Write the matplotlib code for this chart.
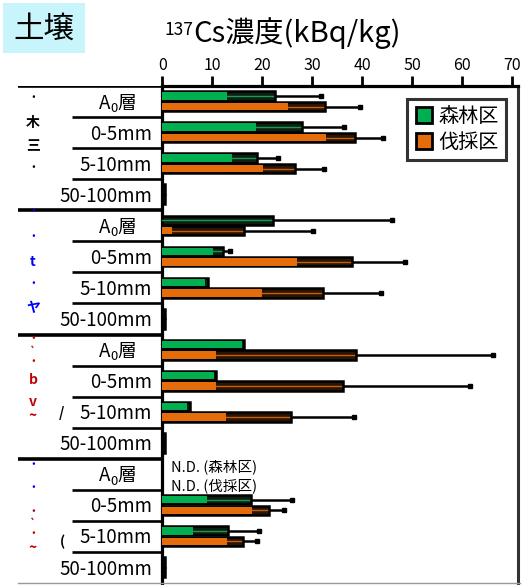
import numpy as np
import matplotlib
matplotlib.use('Agg')
import matplotlib.pyplot as plt
from matplotlib.patches import Rectangle
from matplotlib.lines import Line2D

plt.rcParams['font.family'] = ['Noto Sans CJK JP', 'DejaVu Sans']

# rows top to bottom (4 sites x 4 depths); row 0 of each site is the A0 layer
row_labels = ['A0層', '0-5mm', '5-10mm', '50-100mm'] * 4
# forest plot (森林区): colored part, box end, error bar end
forest_inner = [12.9, 18.7, 13.9, 0, 0.0, 10.2, 8.5, 0, 15.9, 10.3, 5.0, 0, 0, 8.9, 6.2, 0]
forest_outer = [22.5, 27.9, 18.9, 0.6, 22.2, 12.2, 9.2, 0.6, 16.3, 10.7, 5.5, 0.6, 0, 17.7, 13.2, 0.6]
forest_err = [31.7, 36.4, 23.2, 0.6, 46.0, 13.5, 9.2, 0.6, 16.3, 10.7, 5.5, 0.6, 0, 26.0, 19.4, 0.6]
# cut plot (伐採区)
cut_inner = [25.2, 32.7, 20.2, 0, 1.9, 26.9, 19.9, 0, 10.7, 10.7, 12.7, 0, 0, 17.9, 12.9, 0]
cut_outer = [32.5, 38.5, 26.5, 0.6, 16.3, 38.0, 32.2, 0.6, 38.7, 36.2, 25.7, 0.6, 0, 21.4, 16.1, 0.6]
cut_err = [39.5, 44.1, 32.3, 0.6, 30.2, 48.5, 43.7, 0.6, 66.2, 61.5, 38.3, 0.6, 0, 24.4, 19.0, 0.6]
xticks = [0, 10, 20, 30, 40, 50, 60, 70]

green = '#00b050'
orange = '#e46c0a'
W, H = 528, 585

fig = plt.figure(figsize=(5.28, 5.85), dpi=100)

def fx(x):
    return x / W

def fy(y):
    return 1 - y / H

# title box
fig.patches.append(Rectangle((fx(3), fy(53)), 82 / W, 50 / H, transform=fig.transFigure,
                             facecolor='#c8f5fb', edgecolor='none'))
fig.text(fx(44), fy(29), '土壌', fontsize=22, ha='center', va='center')
fig.text(fx(193), fy(30), '137', fontsize=12.5, ha='right', va='center')
fig.text(fx(193), fy(33), 'Cs濃度(kBq/kg)', fontsize=21, ha='left', va='center')

# left table
n = len(row_labels)
tab = fig.add_axes([fx(18), fy(583), (163 - 18) / W, 497 / H])
tab.set_xlim(18, 163)
tab.set_ylim(n - 0.5, -0.5)
tab.axis('off')
for i in range(n + 1):
    yb = i - 0.5
    if i % 4 == 0 and i < n:
        tab.plot([18, 163], [yb, yb], color='black', lw=2.6, solid_capstyle='butt')
    elif i < n:
        tab.plot([72, 163], [yb, yb], color='black', lw=1.9, solid_capstyle='butt')
for i, lab in enumerate(row_labels):
    if lab.startswith('A0'):
        tab.text(110.5, i + 0.05, 'A', fontsize=13.5, ha='right', va='center')
        tab.text(110, i + 0.22, '0', fontsize=9.5, ha='left', va='center')
        tab.text(117, i + 0.05, lab[2:], fontsize=13.5, ha='left', va='center')
    else:
        tab.text(152, i + 0.05, lab, fontsize=13.5, ha='right', va='center')

# garbled vertical site names on the left (clipped in original)
frags = [('・', 33, 98, 'black'), ('木', 33, 123, 'black'), ('三', 33, 146, 'black'), ('・', 33, 168, 'black'),
         ('・', 33, 212, 'blue'), ('・', 33, 237, 'blue'), ('t', 33, 262, 'blue'), ('・', 33, 284, 'blue'),
         ('ヤ', 33, 308, 'blue'),
         ('・', 33, 339, '#c00000'), ('`', 33, 352, '#c00000'), ('・', 33, 362, '#c00000'), ('b', 33, 380, '#c00000'),
         ('v', 33, 402, '#c00000'), ('~', 33, 416, '#c00000'), ('/', 61, 413, 'black'),
         ('・', 33, 465, 'blue'), ('・', 33, 488, 'blue'), ('・', 33, 512, '#a00030'), ('`', 33, 524, '#c00000'),
         ('・', 33, 534, '#c00000'), ('~', 33, 548, '#c00000'), ('(', 62, 542, 'black')]
for s, x, y, c in frags:
    fs = 7 if s == '・' or s == '`' else 10
    fig.text(fx(x), fy(y), s, fontsize=fs, color=c, ha='center', va='center', fontweight='bold')

# main axes
ax = fig.add_axes([fx(162.3), fy(583), 356 / W, 497 / H])
ax.set_xlim(0, 71.2)
ax.set_ylim(n - 0.5, -0.5)
y = np.arange(n)
h = 0.3

def draw_series(inner, outer, err, off, col, dark, stripe):
    for i in range(n):
        if outer[i] <= 0:
            continue
        yc = y[i] + off
        if err[i] > outer[i]:
            ax.plot([outer[i], err[i]], [yc, yc], color='black', lw=1.8, zorder=2)
            ax.plot([err[i]], [yc], marker='s', ms=3.5, color='black', zorder=2)
        ax.barh(yc, outer[i], height=h, color=dark, edgecolor='black', lw=1.8, zorder=3)
        if outer[i] - inner[i] > 1:
            ax.plot([inner[i], outer[i] - 0.4], [yc, yc], color=stripe, lw=1.0, zorder=4)
        if inner[i] > 0:
            ax.barh(yc, inner[i], height=h - 0.06, color=col, edgecolor='none', zorder=4)

draw_series(forest_inner, forest_outer, forest_err, -0.18, green, '#0c1f12', '#1e9a50')
draw_series(cut_inner, cut_outer, cut_err, 0.16, orange, '#2a1404', '#c4600e')

fig.text(fx(171), fy(467), 'N.D. (森林区)', fontsize=10.5, ha='left', va='center')
fig.text(fx(171), fy(486), 'N.D. (伐採区)', fontsize=10.5, ha='left', va='center')

ax.xaxis.tick_top()
ax.set_xticks(xticks)
ax.tick_params(axis='x', direction='out', length=7, width=2, labelsize=11.5, pad=2)
ax.set_yticks([])
ax.spines['top'].set_linewidth(2.3)
ax.spines['left'].set_linewidth(2.3)
ax.spines['right'].set_linewidth(2.2)
ax.spines['right'].set_color('#333333')
ax.spines['bottom'].set_visible(False)
fig.add_artist(Line2D([fx(18), fx(520)], [fy(583), fy(583)], color='#999999', lw=1))

handles = [Line2D([], [], ls='none', marker='s', ms=11, mfc=green, mec='black', mew=2),
           Line2D([], [], ls='none', marker='s', ms=11, mfc=orange, mec='black', mew=2)]
leg = ax.legend(handles, ['森林区', '伐採区'], loc='upper left', bbox_to_anchor=(0.66, 0.995),
                fontsize=14.5, frameon=True, fancybox=False, edgecolor='black',
                handletextpad=0.2, borderpad=0.35, labelspacing=0.25, handlelength=1.0)
leg.get_frame().set_linewidth(2.2)

fig.savefig('out.png', dpi=100)
